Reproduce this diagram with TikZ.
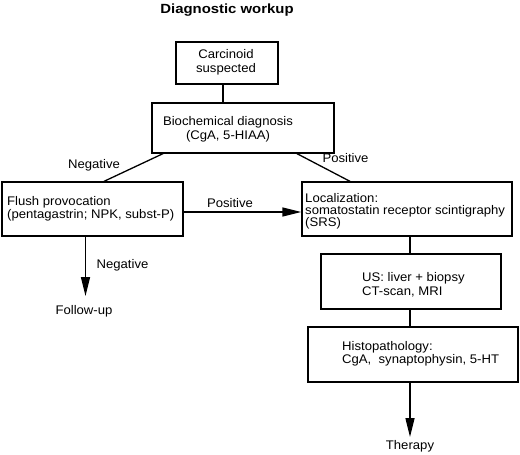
\documentclass[tikz,border=0pt]{standalone}
\usepackage{fontspec}
\setmainfont[FakeStretch=1.05]{Liberation Sans}
\newfontfamily\titlefont[FakeStretch=1.12]{Liberation Sans}
\usetikzlibrary{arrows.meta}
\begin{document}
\begin{tikzpicture}[x=1pt,y=-1pt,
  box/.style={draw, line width=1.3pt, inner sep=0pt},
  txt/.style={inner sep=0pt, align=left, anchor=base west, font=\fontsize{12.5}{13.3}\selectfont},
  ctxt/.style={inner sep=0pt, align=center, anchor=base, font=\fontsize{12.5}{13.7}\selectfont},
  lbl/.style={inner sep=0pt, anchor=base, font=\fontsize{12.5}{13.3}\selectfont},
  conn/.style={line width=1.3pt},
  arr/.style={line width=1.3pt, -{Triangle[length=19pt,width=9pt]}}]
\useasboundingbox (0,0) rectangle (520,455);
% title
\node[inner sep=0pt, anchor=base, font=\titlefont\bfseries\fontsize{13.3}{14}\selectfont] (title) at (227,13) {Diagnostic workup};
% boxes
\node[box, minimum width=102pt, minimum height=42pt] (B1) at (227,63) {};
\node[box, minimum width=182pt, minimum height=50pt] (B2) at (243,128) {};
\node[box, minimum width=181pt, minimum height=54pt] (B3) at (92.5,209) {};
\node[box, minimum width=210pt, minimum height=54pt] (B4) at (407,209) {};
\node[box, minimum width=180pt, minimum height=55pt] (B5) at (411,281.5) {};
\node[box, minimum width=210pt, minimum height=55pt] (B6) at (413,354.5) {};
% box texts (anchor base = baseline of last line)
\node[ctxt] (T1) at (226,72) {Carcinoid\\suspected};
\node[ctxt] (T2) at (228,139) {Biochemical diagnosis\\(CgA, 5-HIAA)};
\node[txt] (T3) at (7,218.3) {Flush provocation\\(pentagastrin; NPK, subst-P)};
\node[txt, font=\fontsize{12.5}{12}\selectfont] (T4) at (305,226) {Localization:\\somatostatin receptor scintigraphy\\(SRS)};
\node[txt] (T5) at (362,295) {US: liver + biopsy\\CT-scan, MRI};
\node[txt] (T6) at (342,363.3) {Histopathology:\\CgA,\ \ synaptophysin, 5-HT};
% free ends
\node[lbl] (FU) at (84,314) {Follow-up};
\node[lbl] (TH) at (410,449) {Therapy};
\coordinate (c1) at (223,0);
\coordinate (c2) at (0,212);
\coordinate (c3) at (410,0);
\coordinate (fuTip) at (85.5,296);
\coordinate (thTip) at (410,437);
% connectors
\draw[conn] (B1.south -| c1) -- (B2.north -| c1);
\draw[conn] ([xshift=-80pt]B2.south) -- ([xshift=11.5pt]B3.north);
\draw[conn] ([xshift=54pt]B2.south) -- ([xshift=-57pt]B4.north);
\draw[arr] (B3.east |- c2) -- (B4.west |- c2);
\draw[arr] (B3.south -| fuTip) -- (fuTip);
\draw[conn] (B4.south -| c3) -- (B5.north -| c3);
\draw[conn] (B5.south -| c3) -- (B6.north -| c3);
\draw[arr] (B6.south -| thTip) -- (thTip);
% labels
\node[lbl] (L1) at (94,168) {Negative};
\node[lbl] (L2) at (345.5,162) {Positive};
\node[lbl] (L3) at (230,207) {Positive};
\node[lbl] (L4) at (122.5,268) {Negative};
\end{tikzpicture}
\end{document}
